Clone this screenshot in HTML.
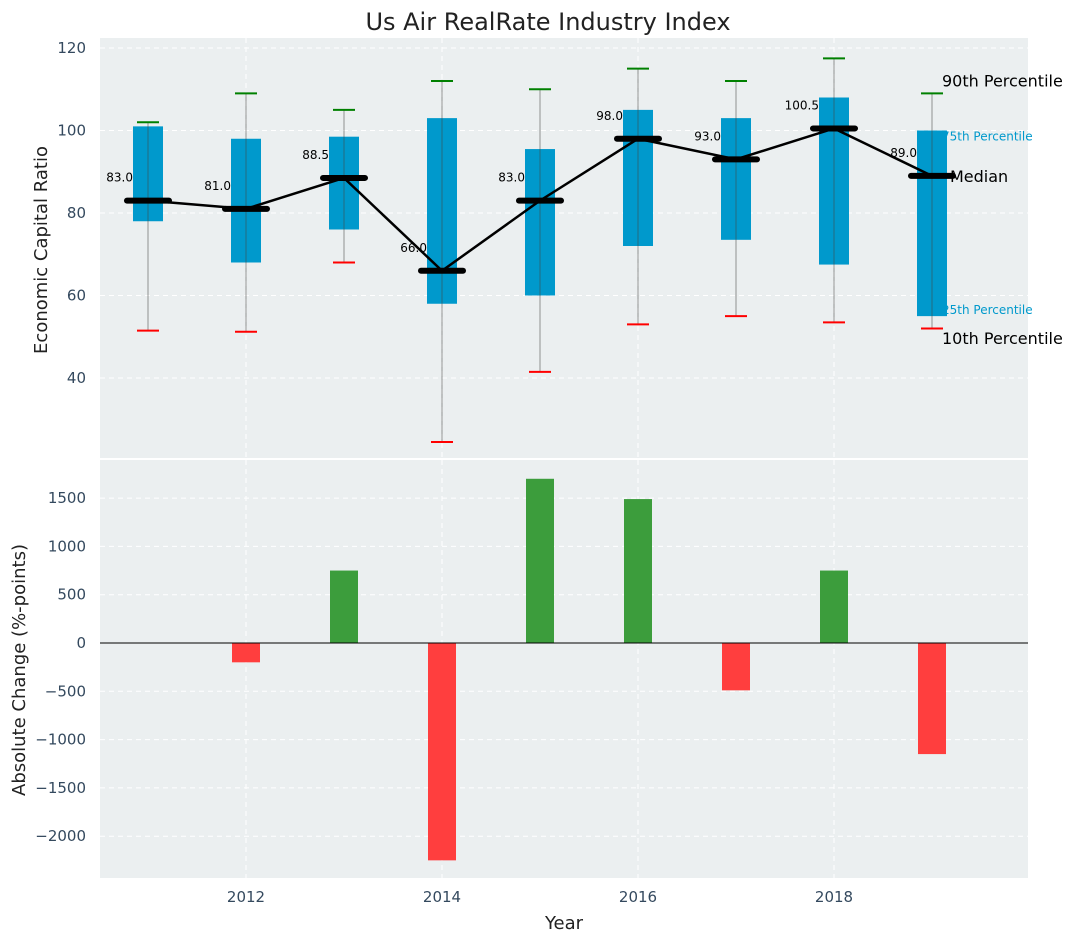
<!DOCTYPE html>
<html><head><meta charset="utf-8"><style>
body{margin:0;background:#fff;font-family:"Liberation Sans","DejaVu Sans",sans-serif}
svg text{font-family:"DejaVu Sans","Liberation Sans",sans-serif}
</style></head><body>
<svg id="c" width="1077" height="942" viewBox="0 0 1077 942" xmlns="http://www.w3.org/2000/svg">
<text x="548" y="30" font-size="24" text-anchor="middle" fill="#222">Us Air RealRate Industry Index</text>
<rect x="100" y="38" width="928" height="420" fill="#ebeff0"/>
<rect x="100" y="460" width="928" height="418" fill="#ebeff0"/>
<g id="topg"></g><g id="botg"></g>
<text x="47" y="250" font-size="18" text-anchor="middle" fill="#222" transform="rotate(-90 47 250)">Economic Capital Ratio</text>
<text x="25" y="670" font-size="18" text-anchor="middle" fill="#222" transform="rotate(-90 25 670)">Absolute Change (%-points)</text>
<text x="564" y="929" font-size="18" text-anchor="middle" fill="#222">Year</text>
</svg>
<script>
const years=[2011,2012,2013,2014,2015,2016,2017,2018,2019];
const q1=[78,68,76,58,60,72,73.5,67.5,55];
const q3=[101,98,98.5,103,95.5,105,103,108,100];
const p10=[51.5,51.2,68,24.5,41.5,53,55,53.5,52];
const p90=[102,109,105,112,110,115,112,117.5,109];
const medians=[83,81,88.5,66,83,98,93,100.5,89];
const changes=[0,-200,750,-2250,1700,1490,-490,750,-1150];
const topTicks=[40,60,80,100,120];
const botTicks=[-2000,-1500,-1000,-500,0,500,1000,1500];
const xTicks=[2012,2014,2016,2018];
const NS="http://www.w3.org/2000/svg";
const X=y=>148+(y-2011)*98;
const Y1=v=>48+(120-v)*4.125;
const Y2=v=>643-v*0.0966;
function mk(p,t,a){const e=document.createElementNS(NS,t);for(const k in a)e.setAttribute(k,a[k]);p.appendChild(e);return e;}
const gTop=document.getElementById('topg'),gBot=document.getElementById('botg');
topTicks.forEach(v=>{
 const g=mk(gTop,'line',{x1:100,x2:1028,y1:Y1(v),y2:Y1(v),stroke:'#fff','stroke-dasharray':'5,4','stroke-width':1});
 
 
 const t=mk(gTop,'text',{x:86,y:Y1(v)+5,'font-size':15,'text-anchor':'end',fill:'#34495e'});t.textContent=v;
 
 
});
botTicks.forEach(v=>{
 const g=mk(gBot,'line',{x1:100,x2:1028,y1:Y2(v),y2:Y2(v),stroke:'#fff','stroke-dasharray':'5,4','stroke-width':1});
 
 
 const t=mk(gBot,'text',{x:86,y:Y2(v)+5,'font-size':15,'text-anchor':'end',fill:'#34495e'});t.textContent=(v<0?'\u2212'+(-v):v);
 
 
});
xTicks.forEach(y=>{
 [[gTop,38,458],[gBot,460,878]].forEach(([p,a,b])=>{const g=mk(p,'line',{x1:X(y),x2:X(y),y1:a,y2:b,stroke:'#fff','stroke-dasharray':'5,4'});
 
 });
 const t=mk(gBot,'text',{x:X(y),y:902,'font-size':15,'text-anchor':'middle',fill:'#34495e'});t.textContent=y;
 
 
});
const li=years.length-1,lx=X(years[li]);
[['90th Percentile',p90[li]+3,'#000',16],['75th Percentile',q3[li]-1.5,'#0099cc',12],['25th Percentile',q1[li]+1.5,'#0099cc',12],['10th Percentile',p10[li]-2.5,'#000',16]].forEach(([s,v,c,f])=>{
 const t=mk(gTop,'text',{x:lx+10,y:Y1(v)+f/3,'font-size':f,fill:c});t.textContent=s;
 
 
});
years.forEach((y,i)=>{
 const x=X(y);
 const b=mk(gTop,'rect',{x:x-15,y:Y1(q3[i]),width:30,height:Y1(q1[i])-Y1(q3[i]),fill:'#0099cc'});
 
 
 const w=mk(gTop,'line',{x1:x,x2:x,y1:Y1(p90[i]),y2:Y1(p10[i]),stroke:'#444','stroke-opacity':0.55,'stroke-width':1});
 
 
 const c1=mk(gTop,'line',{x1:x-11,x2:x+11,y1:Y1(p90[i]),y2:Y1(p90[i]),stroke:'green','stroke-width':2});
 
 
 const c2=mk(gTop,'line',{x1:x-11,x2:x+11,y1:Y1(p10[i]),y2:Y1(p10[i]),stroke:'red','stroke-width':2});
 
 
});
const pl=mk(gTop,'polyline',{points:years.map((y,i)=>X(y)+','+Y1(medians[i])).join(' '),fill:'none',stroke:'#000','stroke-width':2.5});


years.forEach((y,i)=>{
 const x=X(y);
 const m=mk(gTop,'line',{x1:x-21,x2:x+21,y1:Y1(medians[i]),y2:Y1(medians[i]),stroke:'#000','stroke-width':6,'stroke-linecap':'round'});
 
 
 const t=mk(gTop,'text',{x:x-15,y:Y1(medians[i])-19,'font-size':12,'text-anchor':'end',fill:'#000'});t.textContent=medians[i].toFixed(1);
 
 
 const v=changes[i];
 if(v!==0){
  const r=mk(gBot,'rect',{x:x-14,y:Math.min(Y2(0),Y2(v)),width:28,height:Math.abs(Y2(v)-Y2(0)),fill:v>0?'#3c9d3c':'#ff3e3e'});
  
  
 }
});
const ml=mk(gTop,'text',{x:lx+18,y:Y1(medians[li])+6,'font-size':16,fill:'#000'});ml.textContent='Median';


const z=mk(gBot,'line',{x1:100,x2:1028,y1:Y2(0),y2:Y2(0),stroke:'#000','stroke-width':1});


</script>
</body></html>
